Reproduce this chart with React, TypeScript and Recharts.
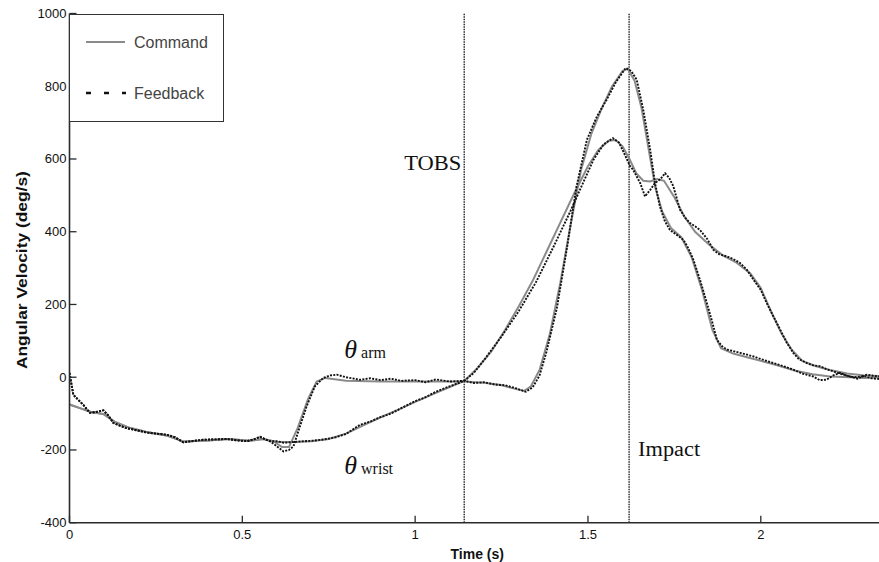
import React from 'react';
import { LineChart, Line, XAxis, YAxis, ReferenceLine, ReferenceDot, Legend } from 'recharts';

const xTicks = [0, 0.5, 1, 1.5, 2];
const yTicks = [-400, -200, 0, 200, 400, 600, 800, 1000];
const tobsTime = 1.142;
const impactTime = 1.619;

// shared early part (arm and wrist overlap)
const earlyCommand: [number, number][] = [
  [0, -75], [0.03, -85], [0.06, -95], [0.1, -102], [0.13, -122], [0.17, -138], [0.22, -150],
  [0.28, -160], [0.33, -177], [0.4, -174], [0.46, -170], [0.52, -175], [0.56, -170],
];
const earlyFeedback: [number, number][] = [
  [0, 12], [0.011, -48], [0.025, -62], [0.04, -76], [0.059, -98], [0.075, -96], [0.098, -91],
  [0.112, -105], [0.127, -126], [0.145, -133], [0.165, -140], [0.19, -145], [0.223, -152],
  [0.25, -155], [0.281, -158], [0.305, -165], [0.329, -179], [0.36, -175], [0.387, -172],
  [0.42, -171], [0.455, -170], [0.49, -174], [0.513, -176], [0.535, -170], [0.551, -164],
  [0.565, -170], [0.58, -176],
];

const armCommandLate: [number, number][] = [
  [0.59, -176], [0.615, -192], [0.635, -192], [0.66, -140], [0.69, -60], [0.715, -12], [0.74, -2],
  [0.8, -10], [0.9, -12], [1.0, -12], [1.1, -12], [1.142, -12], [1.2, -15], [1.25, -22],
  [1.29, -32], [1.315, -38], [1.335, -25], [1.36, 20], [1.39, 120], [1.42, 260], [1.45, 420],
  [1.48, 570], [1.51, 670], [1.54, 740], [1.57, 800], [1.6, 842], [1.615, 848], [1.635, 815],
  [1.655, 740], [1.675, 630], [1.695, 520], [1.715, 455], [1.74, 410], [1.77, 385], [1.8, 330],
  [1.83, 240], [1.86, 130], [1.885, 80], [1.92, 65], [1.96, 55], [2.0, 45], [2.05, 32],
  [2.1, 18], [2.15, 8], [2.2, 2], [2.26, 0], [2.3, -2], [2.342, 0],
];
const armFeedbackLate: [number, number][] = [
  [0.6, -190], [0.619, -204], [0.635, -200], [0.648, -190], [0.665, -140], [0.686, -80],
  [0.71, -25], [0.734, -2], [0.755, 5], [0.773, 7], [0.8, 0], [0.84, -7], [0.87, -3], [0.9, -8],
  [0.93, -4], [0.96, -10], [1.0, -8], [1.03, -14], [1.06, -6], [1.1, -12], [1.142, -10],
  [1.17, -16], [1.2, -14], [1.23, -20], [1.26, -22], [1.29, -30], [1.32, -40], [1.34, -28],
  [1.36, 5], [1.38, 70], [1.41, 190], [1.44, 360], [1.467, 525], [1.497, 653], [1.525, 715],
  [1.554, 763], [1.58, 810], [1.609, 850], [1.625, 842], [1.641, 818], [1.66, 735], [1.68, 625],
  [1.694, 534], [1.708, 470], [1.722, 430], [1.737, 405], [1.756, 392], [1.776, 378], [1.79, 355],
  [1.805, 323], [1.825, 265], [1.844, 204], [1.86, 150], [1.873, 103], [1.888, 85], [1.902, 76],
  [1.92, 72], [1.94, 67], [1.96, 62], [1.979, 57], [2.0, 50], [2.036, 39], [2.06, 32],
  [2.094, 21], [2.12, 10], [2.152, 2], [2.17, -8], [2.19, -7], [2.21, 5], [2.229, 12],
  [2.25, 4], [2.27, 0], [2.3, 3], [2.32, -3], [2.342, -5],
];

const wristCommandLate: [number, number][] = [
  [0.6, -178], [0.65, -178], [0.7, -176], [0.75, -170], [0.8, -155], [0.85, -132], [0.9, -110],
  [0.95, -90], [1.0, -68], [1.05, -47], [1.1, -27], [1.142, -10], [1.18, 25], [1.22, 70],
  [1.26, 130], [1.3, 195], [1.34, 265], [1.38, 345], [1.42, 425], [1.46, 505], [1.5, 580],
  [1.53, 625], [1.56, 650], [1.58, 652], [1.6, 635], [1.62, 600], [1.64, 560], [1.66, 540],
  [1.68, 538], [1.7, 545], [1.72, 540], [1.75, 495], [1.78, 440], [1.81, 400], [1.85, 365],
  [1.89, 335], [1.93, 315], [1.97, 285], [2.0, 245], [2.03, 180], [2.06, 120], [2.09, 75],
  [2.12, 45], [2.16, 30], [2.2, 20], [2.25, 10], [2.3, 5], [2.342, 3],
];
const wristFeedbackLate: [number, number][] = [
  [0.6, -176], [0.62, -180], [0.65, -178], [0.68, -176], [0.71, -174], [0.744, -170],
  [0.77, -165], [0.8, -156], [0.84, -131], [0.87, -122], [0.9, -110], [0.93, -100], [0.96, -85],
  [1.0, -66], [1.03, -55], [1.06, -40], [1.1, -25], [1.142, -10], [1.17, 12], [1.2, 48],
  [1.25, 112], [1.3, 182], [1.35, 262], [1.4, 358], [1.45, 458], [1.48, 522], [1.516, 598],
  [1.545, 640], [1.572, 657], [1.59, 645], [1.605, 615], [1.622, 580], [1.631, 570],
  [1.651, 534], [1.665, 497], [1.68, 515], [1.694, 534], [1.71, 545], [1.723, 561], [1.735, 548],
  [1.747, 525], [1.766, 461], [1.78, 440], [1.795, 424], [1.81, 415], [1.824, 405], [1.845, 380],
  [1.863, 350], [1.88, 338], [1.902, 332], [1.92, 325], [1.94, 314], [1.96, 295], [1.979, 268],
  [2.0, 240], [2.017, 204], [2.035, 170], [2.056, 131], [2.075, 95], [2.094, 67], [2.11, 50],
  [2.133, 39], [2.15, 33], [2.172, 30], [2.19, 22], [2.21, 16], [2.235, 8], [2.258, 2],
  [2.28, -4], [2.307, 7], [2.325, 4], [2.342, 2],
];

const toPts = (arr: [number, number][]) => arr.map(([t, v]) => ({ t, v }));
const armCommand = toPts([...earlyCommand, ...armCommandLate]);
const armFeedback = toPts([...earlyFeedback, ...armFeedbackLate]);
const wristCommand = toPts([...earlyCommand, ...wristCommandLate]);
const wristFeedback = toPts([...earlyFeedback, ...wristFeedbackLate]);

const CMD = '#8a8a8a';
const FB = '#111';
const AXIS = '#2a2a2a';
const SANS = 'Liberation Sans, Arial, sans-serif';
const SERIF = 'Liberation Serif, Times New Roman, serif';

const BottomTick = (p: any) => (
  <g>
    <line x1={p.x} x2={p.x} y1={p.y} y2={p.y - 7} stroke={AXIS} strokeWidth={1.3} />
    <text x={p.x} y={p.y + 16} textAnchor="middle" fontSize={13} fontFamily={SANS} fill="#111">
      {p.payload.value}
    </text>
  </g>
);
const TopTick = (p: any) => (
  <line x1={p.x} x2={p.x} y1={p.y} y2={p.y + 7} stroke={AXIS} strokeWidth={1.3} />
);
const LeftTick = (p: any) => (
  <g>
    <line x1={p.x} x2={p.x + 7} y1={p.y} y2={p.y} stroke={AXIS} strokeWidth={1.3} />
    <text x={p.x - 3} y={p.y + 4.5} textAnchor="end" fontSize={13} fontFamily={SANS} fill="#111">
      {p.payload.value}
    </text>
  </g>
);

const LegendBox = () => (
  <svg width={155} height={108} style={{ display: 'block' }}>
    <rect x={0.5} y={0.5} width={154} height={107} fill="#fff" stroke="#333" strokeWidth={1} />
    <line x1={17} x2={56} y1={28} y2={28} stroke={CMD} strokeWidth={2.2} />
    <text x={65} y={33.5} fontSize={16} fontFamily={SANS} fill="#444">Command</text>
    <line x1={17} x2={57} y1={79} y2={79} stroke={FB} strokeWidth={2.6} strokeDasharray="5 13" />
    <text x={65} y={84.5} fontSize={16} fontFamily={SANS} fill="#444">Feedback</text>
  </svg>
);

const TextMark = (text: string, anchor: 'start' | 'end', dx: number, len: number) => (p: any) => (
  <text
    x={p.cx + dx}
    y={p.cy}
    textAnchor={anchor}
    fontSize={20}
    fontFamily={SERIF}
    fill="#111"
    textLength={len}
    lengthAdjust="spacingAndGlyphs"
  >
    {text}
  </text>
);
const ThetaMark = (sub: string) => (p: any) => (
  <text x={p.cx} y={p.cy} fontFamily={SERIF} fill="#111">
    <tspan fontStyle="italic" fontSize={26}>θ</tspan>
    <tspan fontSize={16} dx={4}>{sub}</tspan>
  </text>
);

export default function App() {
  return (
    <div style={{ position: 'absolute', left: 0, top: 0 }}>
      <LineChart width={879} height={562} margin={{ top: 13.5, right: 0, bottom: 9.3, left: 9.5 }}>
        <XAxis
          dataKey="t"
          type="number"
          domain={[0, 2.342]}
          ticks={xTicks}
          allowDataOverflow
          height={30}
          tickSize={0}
          tickMargin={0}
          tickLine={false}
          axisLine={{ stroke: AXIS, strokeWidth: 1.6 }}
          tick={<BottomTick />}
          label={{
            content: (p: any) => (
              <text
                x={p.viewBox.x + p.viewBox.width / 2 + 3}
                y={p.viewBox.y + 36}
                textAnchor="middle"
                fontSize={14}
                fontWeight="bold"
                fontFamily={SANS}
                fill="#111"
              >
                Time (s)
              </text>
            ),
          }}
        />
        <XAxis
          xAxisId="top"
          orientation="top"
          dataKey="t"
          type="number"
          domain={[0, 2.342]}
          ticks={xTicks}
          height={0}
          tickSize={0}
          tickMargin={0}
          tickLine={false}
          axisLine={{ stroke: '#555', strokeWidth: 1.6 }}
          tick={<TopTick />}
        />
        <YAxis
          type="number"
          domain={[-400, 1000]}
          ticks={yTicks}
          width={60}
          tickSize={0}
          tickMargin={0}
          tickLine={false}
          axisLine={{ stroke: AXIS, strokeWidth: 1.6 }}
          tick={<LeftTick />}
          label={{
            content: (p: any) => {
              const cx = 27;
              const cy = p.viewBox.y + p.viewBox.height / 2 + 2;
              return (
                <text
                  x={cx}
                  y={cy}
                  transform={`rotate(-90, ${cx}, ${cy})`}
                  textAnchor="middle"
                  fontSize={14}
                  fontWeight="bold"
                  fontFamily={SANS}
                  fill="#111"
                  textLength={198}
                  lengthAdjust="spacingAndGlyphs"
                >
                  Angular Velocity (deg/s)
                </text>
              );
            },
          }}
        />
        <Legend
          layout="vertical"
          align="center"
          verticalAlign="middle"
          content={() => <LegendBox />}
          wrapperStyle={{ position: 'absolute', left: 69, top: 13.5, width: 155, height: 108 }}
        />
        <ReferenceLine x={tobsTime} stroke="#222" strokeWidth={1.4} strokeDasharray="1.5 1" />
        <ReferenceLine x={impactTime} stroke="#222" strokeWidth={1.4} strokeDasharray="1.5 1" />
        <Line data={armCommand} dataKey="v" type="linear" stroke={CMD} strokeWidth={2} dot={false} isAnimationActive={false} legendType="none" />
        <Line data={wristCommand} dataKey="v" type="linear" stroke={CMD} strokeWidth={2} dot={false} isAnimationActive={false} legendType="none" />
        <Line data={armFeedback} dataKey="v" type="linear" stroke={FB} strokeWidth={1.9} strokeDasharray="2 1.3" dot={false} isAnimationActive={false} legendType="none" />
        <Line data={wristFeedback} dataKey="v" type="linear" stroke={FB} strokeWidth={1.9} strokeDasharray="2 1.3" dot={false} isAnimationActive={false} legendType="none" />
        <ReferenceDot x={tobsTime} y={570} r={0} shape={TextMark('TOBS', 'end', -3, 57)} />
        <ReferenceDot x={impactTime} y={-216} r={0} shape={TextMark('Impact', 'start', 9, 62)} />
        <ReferenceDot x={0.795} y={54} r={0} shape={ThetaMark('arm')} />
        <ReferenceDot x={0.795} y={-265} r={0} shape={ThetaMark('wrist')} />
      </LineChart>
    </div>
  );
}
